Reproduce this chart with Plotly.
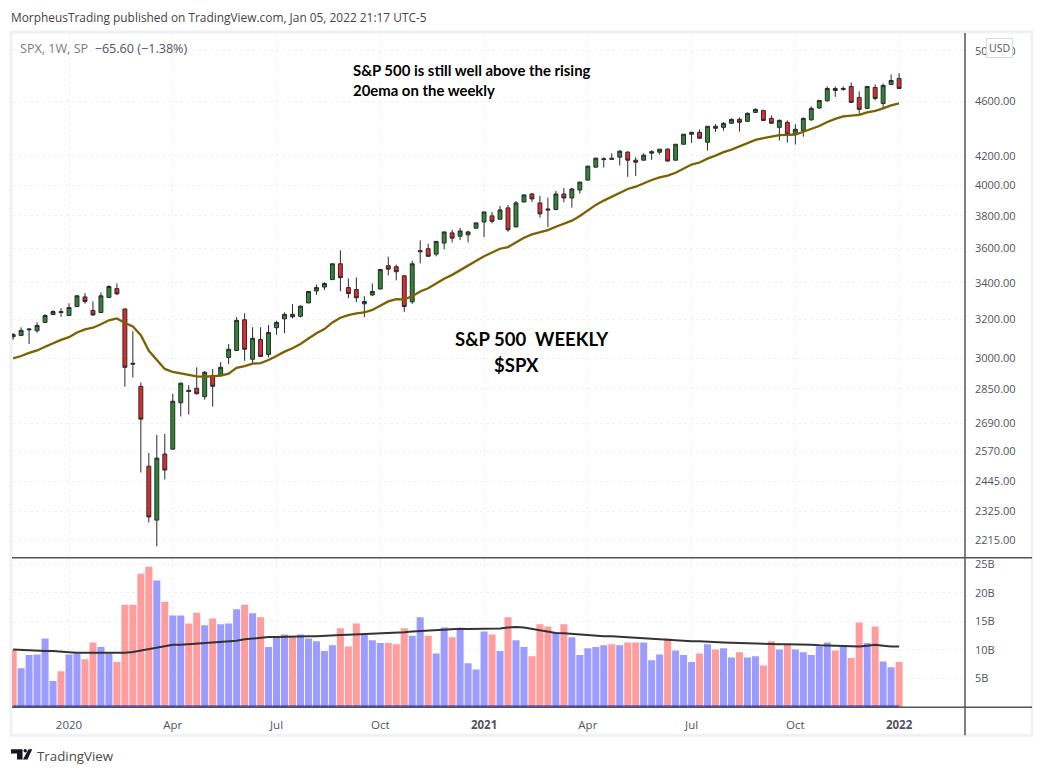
import pandas as pd
import plotly.graph_objs as go

# weekly SPX bars
weeks = pd.date_range('2019-11-18', periods=112, freq='W-MON')

opens = [3120, 3115, 3144, 3139, 3183, 3225, 3241, 3220, 3268, 3321, 3247, 3236, 3318, 3367, 3255, 2974,
         2862, 2506, 2291, 2557, 2578, 2785, 2843, 2853, 2813, 2913, 2913, 3003, 3038, 3197, 2994, 3094,
         3018, 3155, 3202, 3226, 3216, 3288, 3354, 3376, 3418, 3509, 3373, 3362, 3283, 3332, 3365, 3498,
         3492, 3440, 3294, 3580, 3598, 3566, 3632, 3694, 3674, 3682, 3723, 3762, 3800, 3779, 3851, 3731,
         3889, 3941, 3883, 3844, 3841, 3941, 3915, 3967, 4033, 4121, 4173, 4183, 4190, 4225, 4169, 4169,
         4218, 4225, 4246, 4169, 4281, 4353, 4367, 4295, 4411, 4403, 4433, 4462, 4447, 4514, 4529, 4469,
         4403, 4440, 4352, 4378, 4459, 4547, 4602, 4697, 4690, 4713, 4628, 4544, 4705, 4582, 4729, 4776]
highs = [3127, 3157, 3151, 3183, 3227, 3248, 3259, 3286, 3331, 3342, 3296, 3346, 3386, 3396, 3257, 3138,
         2881, 2562, 2640, 2644, 2826, 2880, 2867, 2954, 2935, 2946, 2980, 3070, 3211, 3232, 3158, 3158,
         3169, 3192, 3236, 3281, 3275, 3352, 3390, 3403, 3511, 3588, 3425, 3430, 3325, 3396, 3478, 3551,
         3504, 3442, 3527, 3648, 3628, 3646, 3702, 3713, 3725, 3708, 3756, 3827, 3825, 3863, 3870, 3896,
         3937, 3948, 3929, 3917, 3961, 3981, 3981, 4020, 4128, 4187, 4190, 4217, 4239, 4232, 4190, 4218,
         4239, 4246, 4253, 4281, 4353, 4367, 4389, 4411, 4426, 4440, 4469, 4477, 4514, 4544, 4529, 4491,
         4462, 4454, 4426, 4477, 4560, 4605, 4713, 4713, 4713, 4744, 4674, 4713, 4729, 4737, 4808, 4818]
lows = [3092, 3111, 3071, 3129, 3181, 3224, 3213, 3218, 3266, 3283, 3218, 3234, 3316, 3331, 2860, 2904,
        2480, 2282, 2193, 2451, 2576, 2722, 2731, 2823, 2799, 2767, 2912, 2970, 3036, 2986, 2970, 3006,
        3003, 3118, 3127, 3204, 3209, 3286, 3332, 3359, 3416, 3352, 3314, 3292, 3211, 3325, 3363, 3442,
        3414, 3239, 3283, 3512, 3551, 3553, 3594, 3636, 3650, 3636, 3721, 3668, 3753, 3777, 3701, 3729,
        3887, 3889, 3789, 3729, 3835, 3887, 3853, 3943, 4031, 4119, 4119, 4173, 4132, 4055, 4061, 4166,
        4171, 4208, 4160, 4166, 4280, 4291, 4321, 4236, 4369, 4379, 4430, 4372, 4444, 4511, 4451, 4430,
        4307, 4293, 4279, 4335, 4451, 4541, 4595, 4632, 4679, 4587, 4499, 4541, 4605, 4537, 4726, 4695]
closes = [3108, 3141, 3148, 3167, 3220, 3241, 3236, 3263, 3327, 3296, 3223, 3327, 3379, 3338, 2954, 2970,
          2710, 2303, 2540, 2490, 2792, 2877, 2838, 2827, 2930, 2862, 2954, 3044, 3194, 3044, 3100, 3008,
          3130, 3183, 3226, 3213, 3270, 3351, 3373, 3396, 3509, 3429, 3340, 3316, 3296, 3351, 3476, 3478,
          3463, 3268, 3509, 3586, 3553, 3642, 3700, 3662, 3706, 3700, 3756, 3825, 3766, 3838, 3713, 3883,
          3935, 3909, 3813, 3838, 3941, 3915, 3974, 4020, 4128, 4183, 4178, 4176, 4232, 4169, 4155, 4204,
          4228, 4246, 4163, 4281, 4353, 4367, 4324, 4411, 4396, 4433, 4462, 4440, 4507, 4537, 4454, 4433,
          4454, 4353, 4389, 4469, 4544, 4605, 4697, 4682, 4697, 4590, 4537, 4713, 4620, 4721, 4760, 4697]
ema20 = [2998, 3010, 3026, 3038, 3057, 3075, 3092, 3106, 3130, 3146, 3155, 3173, 3194, 3204, 3180, 3162,
         3116, 3036, 2992, 2946, 2931, 2925, 2916, 2910, 2908, 2910, 2913, 2923, 2951, 2960, 2972, 2975,
         2990, 3010, 3032, 3049, 3071, 3099, 3126, 3148, 3183, 3208, 3222, 3231, 3236, 3250, 3275, 3296,
         3309, 3307, 3325, 3351, 3369, 3396, 3423, 3445, 3472, 3495, 3523, 3553, 3576, 3598, 3608, 3638,
         3664, 3685, 3697, 3711, 3732, 3751, 3770, 3799, 3834, 3870, 3898, 3924, 3952, 3974, 3989, 4014,
         4034, 4051, 4063, 4083, 4112, 4139, 4153, 4180, 4201, 4225, 4243, 4264, 4290, 4312, 4324, 4336,
         4346, 4348, 4351, 4371, 4391, 4413, 4442, 4466, 4484, 4491, 4496, 4514, 4526, 4544, 4567, 4582]

# volume in billions
volume = [10.1, 6.8, 9.1, 9.2, 12.0, 4.6, 6.3, 9.2, 9.4, 8.4, 11.3, 10.5, 9.4, 7.9, 17.9, 17.9,
          23.3, 24.5, 22.1, 18.4, 16.0, 16.0, 14.6, 16.5, 14.3, 15.5, 14.5, 14.6, 17.1, 17.9, 16.4, 15.7,
          10.5, 12.2, 12.7, 12.4, 12.7, 12.0, 11.5, 9.8, 10.8, 13.8, 10.6, 14.6, 12.7, 11.7, 11.2, 11.2,
          11.0, 13.8, 12.5, 15.7, 12.5, 9.4, 13.9, 12.2, 13.6, 7.7, 6.6, 13.2, 12.7, 9.8, 15.7, 11.7,
          10.5, 8.9, 14.5, 14.1, 13.1, 14.5, 12.2, 9.1, 10.3, 10.5, 10.8, 11.0, 10.8, 11.3, 11.3, 11.3,
          8.2, 9.2, 12.0, 9.9, 9.1, 7.9, 9.4, 11.0, 10.1, 10.3, 8.7, 9.6, 8.7, 8.9, 7.3, 11.5,
          10.1, 11.0, 10.1, 9.6, 9.1, 10.6, 11.3, 9.9, 10.5, 8.6, 14.8, 11.2, 14.1, 8.0, 7.0, 7.9]
volume_ma = [10.1, 10.0, 9.9, 9.8, 9.8, 9.8, 9.65, 9.6, 9.5, 9.5, 9.5, 9.5, 9.4, 9.4, 9.5, 9.65,
             9.9, 10.2, 10.5, 10.7, 10.9, 10.9, 11.0, 11.1, 11.2, 11.3, 11.4, 11.4, 11.6, 11.85, 12.0, 12.1,
             12.25, 12.25, 12.3, 12.4, 12.4, 12.4, 12.4, 12.5, 12.55, 12.6, 12.65, 12.7, 12.8, 12.9, 12.9, 12.95,
             12.95, 13.1, 13.2, 13.3, 13.4, 13.4, 13.5, 13.6, 13.7, 13.65, 13.65, 13.7, 13.75, 13.75, 13.9, 14.0,
             13.9, 13.65, 13.35, 13.1, 12.95, 12.9, 12.8, 12.65, 12.55, 12.55, 12.4, 12.4, 12.3, 12.25, 12.2, 12.1,
             12.0, 11.85, 11.7, 11.6, 11.55, 11.5, 11.5, 11.4, 11.4, 11.3, 11.25, 11.2, 11.1, 11.05, 11.05, 11.0,
             11.0, 11.0, 11.0, 10.95, 10.9, 10.8, 10.75, 10.7, 10.6, 10.6, 10.6, 10.75, 10.9, 10.75, 10.6, 10.6]

# axis ticks
price_ticks = [2215, 2325, 2445, 2570, 2690, 2850, 3000, 3200, 3400, 3600, 3800, 4000, 4200, 4600, 5000]
volume_ticks = [5, 10, 15, 20, 25]
volume_labels = ['5B', '10B', '15B', '20B', '25B']
date_ticks = ['2020-01-06', '2020-04-06', '2020-07-06', '2020-10-05', '2021-01-04',
              '2021-04-05', '2021-07-05', '2021-10-04', '2022-01-03']
date_labels = ['2020', 'Apr', 'Jul', 'Oct', '<b>2021</b>', 'Apr', 'Jul', 'Oct', '<b>2022</b>']

W = 1044
H = 775
# page sits a little low in the browser, pull everything up
LIFT = 1


def px(x):
    return x / W


def py(y):
    return 1 - (y - LIFT) / H


GRID = '#eef0f4'
LABEL = '#50535e'
FONT = 'Open Sans'

volume_colors = ['#9c9cff' if c >= o else '#ff9c9e' for o, c in zip(opens, closes)]

candles = go.Candlestick(x=weeks, open=opens, high=highs, low=lows, close=closes,
                         increasing=dict(line=dict(color='#2a2a2a', width=1), fillcolor='#2e8537'),
                         decreasing=dict(line=dict(color='#2a2a2a', width=1), fillcolor='#dc2c30'),
                         whiskerwidth=0, xaxis='x', yaxis='y')
ema_line = go.Scatter(x=weeks, y=ema20, mode='lines', line=dict(color='#7f6000', width=2.3),
                      xaxis='x', yaxis='y')
vol_bars = go.Bar(x=weeks, y=volume, marker=dict(color=volume_colors, line=dict(width=0)),
                  xaxis='x2', yaxis='y2')
vol_line = go.Scatter(x=weeks, y=volume_ma, mode='lines', line=dict(color='#333333', width=2),
                      xaxis='x2', yaxis='y2')


def note(x, y, text, size, color='#000000', anchor='left', bold=False, family='Lato', **kw):
    if bold:
        text = '<b>' + text + '</b>'
    return dict(xref='paper', yref='paper', x=px(x), y=py(y), text=text, showarrow=False,
                xanchor=anchor, yanchor='middle', font=dict(family=family, size=size, color=color), **kw)


notes = [
    note(9, 15.5, 'MorpheusTrading published on TradingView.com, Jan 05, 2022 21:17 UTC-5', 11.9, '#444444', family=FONT),
    note(18, 46.5, '<span style="color:#787b86">SPX, 1W, SP</span>\u00a0 \u221265.60 (\u22121.38%)', 12.6, '#50535e', family=FONT),
    note(351, 68.5, 'S&P 500 is still well above the rising', 14.9, bold=True),
    note(351, 88.5, '20ema on the weekly', 14.9, bold=True),
    note(532, 338.5, 'S&P 500\u00a0\u00a0WEEKLY', 18.5, anchor='center', bold=True),
    note(516, 364.5, '$SPX', 18.5, anchor='center', bold=True),
    note(999.5, 46, 'USD', 10.5, LABEL, anchor='center', family=FONT, bgcolor='#ffffff',
         bordercolor='#d6d8e0', borderwidth=1, borderpad=2),
    note(35, 756.5, 'TradingView', 13.3, '#4a4a4a', family=FONT),
]


def hline(y, x0=12, x1=1032):
    return dict(type='line', xref='paper', yref='paper', x0=px(x0), x1=px(x1), y0=py(y), y1=py(y),
                line=dict(color='#555555', width=1.5))


def logo_path(points):
    return 'M' + ' L'.join('%.4f,%.4f' % (px(x), py(y)) for x, y in points) + ' Z'


shapes = [
    # outer frame
    dict(type='rect', xref='paper', yref='paper', x0=px(11), x1=px(1032), y0=py(736), y1=py(30),
         line=dict(color='#f0f1f6', width=3), layer='below'),
    hline(558),
    hline(708),
    dict(type='line', xref='paper', yref='paper', x0=px(965), x1=px(965), y0=py(31), y1=py(736),
         line=dict(color='#555555', width=1.5)),
    # thin blue band sitting on the volume baseline
    dict(type='rect', xref='x2', yref='y2', x0=weeks[0], x1=weeks[-1], y0=0, y1=0.35,
         fillcolor='rgba(60,60,170,0.75)', line=dict(width=0)),
    # TradingView mark
    dict(type='path', xref='paper', yref='paper', fillcolor='#131722', line=dict(width=0),
         path=logo_path([(11, 750), (22.5, 750), (22.5, 760.5), (17, 760.5), (17, 754.5), (11, 754.5)])),
    dict(type='circle', xref='paper', yref='paper', fillcolor='#131722', line=dict(width=0),
         x0=px(23.5), x1=px(27), y0=py(753.5), y1=py(750)),
    dict(type='path', xref='paper', yref='paper', fillcolor='#131722', line=dict(width=0),
         path=logo_path([(32.3, 750), (28.5, 750), (23, 760.5), (27.5, 760.5)])),
]

layout = go.Layout(
    width=W,
    height=H,
    margin=dict(l=0, r=0, t=0, b=0),
    paper_bgcolor='#ffffff',
    plot_bgcolor='#ffffff',
    showlegend=False,
    bargap=0.12,
    font=dict(family=FONT, size=11.5, color=LABEL),
    xaxis=dict(domain=[px(12), px(965)], anchor='y', range=['2019-11-17', '2022-03-01 19:00'],
               rangeslider=dict(visible=False), showticklabels=False, tickvals=date_ticks,
               showgrid=True, gridcolor=GRID, griddash='dot', gridwidth=1, zeroline=False),
    xaxis2=dict(domain=[px(12), px(965)], anchor='y2', range=['2019-11-17', '2022-03-01 19:00'],
                tickvals=date_ticks, ticktext=date_labels, tickangle=0, ticks='', ticklabelstandoff=9,
                showgrid=True, gridcolor=GRID, griddash='dot', gridwidth=1, zeroline=False),
    yaxis=dict(domain=[py(558), py(31)], anchor='x', side='right', type='log',
               range=[3.33277, 3.71199], tickvals=price_ticks, tickfont=dict(size=11),
               ticktext=['%.2f' % p for p in price_ticks], ticks='', ticklabelstandoff=9,
               showgrid=True, gridcolor=GRID, griddash='dot', gridwidth=1, zeroline=False),
    yaxis2=dict(domain=[py(708), py(559)], anchor='x2', side='right', range=[0, 25.9],
                tickvals=volume_ticks, ticktext=volume_labels, tickfont=dict(size=11), ticks='',
                ticklabelstandoff=9,
                showgrid=True, gridcolor=GRID, griddash='dot', gridwidth=1, zeroline=False),
    annotations=notes,
    shapes=shapes,
)

fig = go.Figure(data=[candles, ema_line, vol_bars, vol_line], layout=layout)
fig.write_html('out.html', config=dict(displayModeBar=False),
               post_script="document.body.style.margin='0';document.body.style.overflow='hidden';")
